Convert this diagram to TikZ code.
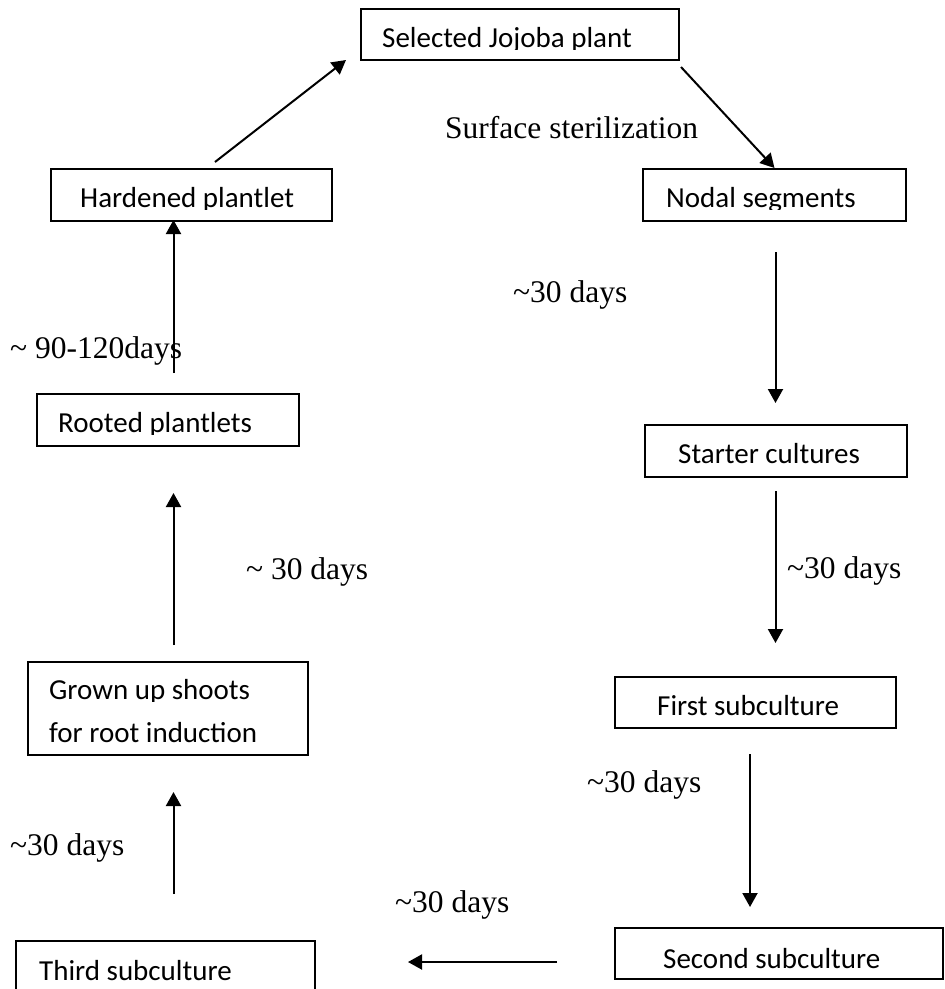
\documentclass[tikz,border=0pt]{standalone}
\usepackage{fontspec}
\setmainfont{Liberation Serif}
\newfontfamily\boxfont{Carlito}
\usetikzlibrary{arrows.meta}
\tikzset{
  box/.style={draw, line width=1.6pt, rectangle, inner sep=0pt, outer sep=0pt, anchor=north west},
  btxt/.style={font=\boxfont\fontsize{29}{34}\selectfont, anchor=base west, inner sep=0pt},
  lbl/.style={font=\fontsize{31.5}{36}\selectfont, anchor=base west, inner sep=0pt},
  arr/.style={line width=2pt, -{Triangle[length=14pt,width=15pt]}},
}
\newcommand\btext[5]{%
  \begin{scope}\clip (#2-30,#3-40) rectangle (#2+420,#5);
  \node[btxt] (#1) at (#2,#3) {#4};\end{scope}}
\begin{document}
\begin{tikzpicture}[x=1pt,y=-1pt]
\path[use as bounding box, clip] (0,0) rectangle (945,989);
\fill[white] (0,0) rectangle (945,989);
% boxes
\node[box, minimum width=318pt, minimum height=51pt] (sel) at (361,9) {};
\node[box, minimum width=281pt, minimum height=52pt] (hard) at (51,169) {};
\node[box, minimum width=263pt, minimum height=52pt] (nod) at (643,169) {};
\node[box, minimum width=262pt, minimum height=52pt] (root) at (37,394) {};
\node[box, minimum width=262pt, minimum height=52pt] (start) at (645,425) {};
\node[box, minimum width=280pt, minimum height=93pt] (grown) at (28,662) {};
\node[box, minimum width=281pt, minimum height=51pt] (first) at (615,677) {};
\node[box, minimum width=328pt, minimum height=51pt] (second) at (615,928) {};
\node[box, minimum width=299pt, minimum height=60pt] (third) at (16,941) {};
% box texts
\btext{selT}{382}{47}{Selected Jojoba plant}{49.5}
\btext{hardT}{80}{207}{Hardened plantlet}{209.5}
\btext{nodT}{666}{207}{Nodal segments}{209.5}
\btext{rootT}{58}{432}{Rooted plantlets}{434.5}
\btext{startT}{678}{463}{Starter cultures}{465.5}
\btext{grownA}{49}{699}{Grown up shoots}{701.5}
\btext{grownB}{49}{742}{for root induction}{752}
\btext{firstT}{657}{715}{First subculture}{717.5}
\btext{secondT}{663}{968}{Second subculture}{970.5}
\btext{thirdT}{39}{980}{Third subculture}{989}
% labels
\node[lbl] (l0) at (445,138) {Surface sterilization};
\node[lbl] (l1) at (513,302) {\textasciitilde30 days};
\node[lbl] (l2) at (10,358) {\textasciitilde\ 90-120days};
\node[lbl] (l3) at (246,579) {\textasciitilde\ 30 days};
\node[lbl] (l4) at (787,578) {\textasciitilde30 days};
\node[lbl] (l5) at (587,792) {\textasciitilde30 days};
\node[lbl] (l6) at (10,855) {\textasciitilde30 days};
\node[lbl] (l7) at (395,912) {\textasciitilde30 days};
% columns
\coordinate (cL) at (173.5,0);
\coordinate (cR) at (775.5,0);
\coordinate (cM) at (750,0);
\coordinate (rB) at (0,962);
% arrows
\draw[arr] ([xshift=23.5pt,yshift=7pt]hard.north) -- ([xshift=-15pt]sel.south west);
\draw[arr] ([xshift=2pt,yshift=-7pt]sel.south east) -- ([yshift=1pt]nod.north);
\draw[arr, shorten <=31pt, shorten >=22pt] (nod.south -| cR) -- (start.north -| cR);
\draw[arr, shorten <=14pt, shorten >=34pt] (start.south -| cR) -- (first.north -| cR);
\draw[arr, shorten <=26pt, shorten >=21pt] (first.south -| cM) -- (second.north -| cM);
\draw[arr, shorten <=58pt, shorten >=93pt] (second.west |- rB) -- (third.east |- rB);
\draw[arr, shorten <=47pt, shorten >=37pt] (third.north -| cL) -- (grown.south -| cL);
\draw[arr, shorten <=17pt, shorten >=47pt] (grown.north -| cL) -- (root.south -| cL);
\draw[arr, shorten <=21pt, shorten >=-1pt] (root.north -| cL) -- (hard.south -| cL);
\end{tikzpicture}
\end{document}
